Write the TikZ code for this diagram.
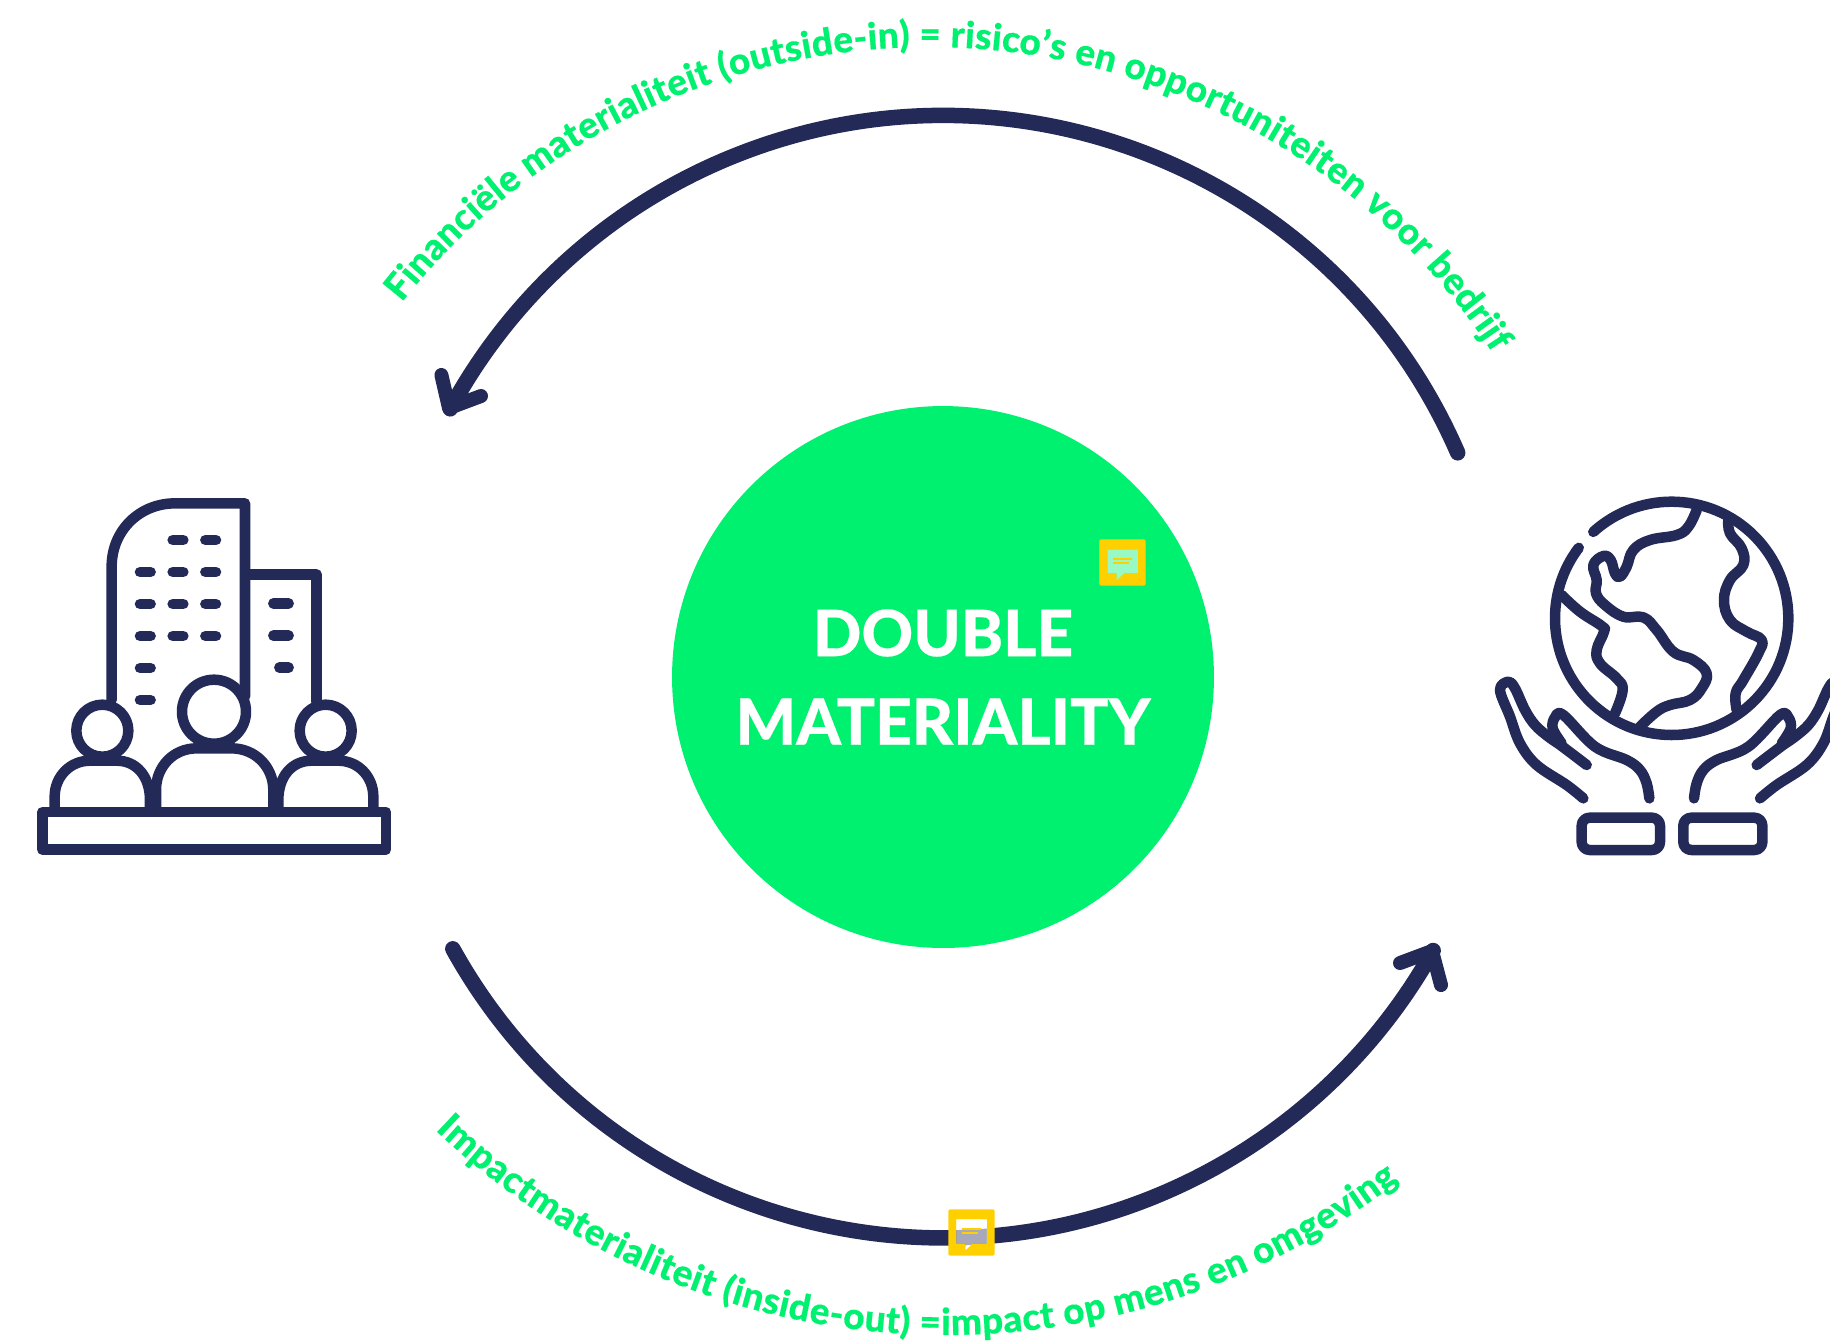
\documentclass[tikz,border=0pt]{standalone}
\usepackage{fontspec}
\setmainfont{Lato}
\newfontfamily\heavyface{Lato Heavy}[FakeBold=0.4]
\usetikzlibrary{decorations.text}
\definecolor{navyc}{HTML}{232A57}
\definecolor{greenc}{HTML}{00F070}
\definecolor{yellowc}{HTML}{FFD000}
\tikzset{
  px/.style={x=0.01cm,y=-0.01cm},
  icon/.style={draw=navyc,line width=1.05mm,line cap=round,line join=round},
  winbar/.style={draw=navyc,line width=1.05mm,line cap=round},
  ringarc/.style={draw=navyc,line width=1.55mm,line cap=round},
  arrowwing/.style={draw=navyc,line width=1.4mm,line cap=round,line join=round},
  curvedlabel/.style={decorate,decoration={text along path,text color=greenc,text align={fit to path},
     text={#1}}},
}
\newcommand{\curvefont}{\heavyface\fontsize{10.5}{12}\selectfont}
\newcommand{\handshape}{%
  \draw[icon] plot[smooth,tension=.6] coordinates {(310,955) (260,915) (170,855) (120,790) (90,710) (60,630) (85,605) (105,625) (135,690) (165,735) (205,770) (245,798) (320,855)};
  \draw[icon] plot[smooth,tension=.6] coordinates {(245,790) (218,745) (225,712) (250,705) (345,800) (440,840) (480,870) (500,910) (508,955)};
}
\begin{document}
\begin{tikzpicture}[px]
\useasboundingbox (0,0) rectangle (1830,1341);
\clip (0,0) rectangle (1830,1341);

% centre
\node[circle,fill=greenc,minimum size=5.416cm,inner sep=0pt,text=white,align=center,
      font=\heavyface\fontsize{18.15}{25.2}\selectfont] (core) at (943,677) {DOUBLE\\MATERIALITY};

% ring arrows
\coordinate (topstart) at (1457.7,452.8);
\coordinate (toptip) at (449,408);
\coordinate (topwinga) at (441.4,375);
\coordinate (topwingb) at (481,396);
\coordinate (botstart) at (452.8,948.8);
\coordinate (bottip) at (1432,951);
\coordinate (botwinga) at (1400,963);
\coordinate (botwingb) at (1441,985);
\draw[ringarc] (topstart) arc[start angle=336.5,end angle=208.5,radius=561];
\draw[arrowwing] (topwinga) -- (toptip) -- (topwingb);
\draw[ringarc] (botstart) arc[start angle=151,end angle=29.2,radius=561];
\draw[arrowwing] (botwinga) -- (bottip) -- (botwingb);

% curved labels
\coordinate (topcentre) at (929,719);
\coordinate (botcentre) at (946.5,595);
\path[curvedlabel={|\curvefont|Financiële materialiteit (outside-in) = risico’s en opportuniteiten voor bedrijf}]
  (topcentre) ++(218.3:672) arc[start angle=218.3,end angle=327,radius=672];
\path[curvedlabel={|\curvefont|Impactmaterialiteit (inside-out) =impact op mens en omgeving}]
  (botcentre) ++(133.7:740) arc[start angle=133.7,end angle=52.4,radius=740];

% comment markers
\foreach \a/\b in {1099.3/539.3,948.3/1209.3}{
\begin{scope}[shift={(\a,\b)},scale=0.33333]
  \fill[yellowc,even odd rule] [rounded corners=0.4pt] (0,0) rectangle (139,139)
     [sharp corners] (24,30) -- (116,30) -- (116,102) -- (74,102) -- (52,122) -- (52,102) -- (24,102) -- cycle;
  \fill[white,opacity=.6] (24,30) -- (116,30) -- (116,102) -- (74,102) -- (52,122) -- (52,102) -- (24,102) -- cycle;
  \draw[yellowc,line width=.2mm] (42,58) -- (97,58) (42,71) -- (89,71);
\end{scope}}

% building icon
\begin{scope}[shift={(20,480)},scale=0.33333]
  \draw[icon] (275,660) -- (275,260) .. controls (275,150) and (360,70) .. (465,70) -- (675,70) -- (675,650);
  \draw[icon] (690,284) -- (890,284) -- (890,665);
  \foreach \r in {276,372,468}{
    \draw[winbar] (360,\r) -- (392,\r) (458,\r) -- (490,\r) (556,\r) -- (588,\r);}
  \draw[winbar] (458,180) -- (490,180) (556,180) -- (588,180);
  \draw[winbar] (360,564) -- (392,564) (360,660) -- (392,660);
  \draw[winbar] (760,370) -- (806,370) (760,467) -- (806,467) (778,563) -- (806,563);
  \draw[icon,fill=white] (104,990) -- (104,950) .. controls (104,890) and (150,842) .. (210,842) -- (290,842) .. controls (350,842) and (390,890) .. (390,960) -- (390,990);
  \draw[icon,fill=white] (775,990) -- (775,960) .. controls (775,890) and (815,842) .. (875,842) -- (955,842) .. controls (1015,842) and (1060,890) .. (1060,950) -- (1060,990);
  \draw[icon,fill=white] (408,990) -- (408,930) .. controls (408,860) and (460,805) .. (530,805) -- (635,805) .. controls (705,805) and (760,860) .. (760,930) -- (760,990);
  \draw[icon,fill=white] (247,752) circle[radius=78];
  \draw[icon,fill=white] (917,752) circle[radius=78];
  \draw[icon,fill=white] (582,695) circle[radius=96];
  \draw[icon,fill=white] (67,996) rectangle (1098,1109);
\end{scope}

% globe icon
\begin{scope}[shift={(1480,480)},scale=0.33333]
  \coordinate (globec) at (575,415);
  \draw[icon] (globec) ++(227.8:350) arc[start angle=227.8,end angle=577.2,radius=350];
  \draw[icon] plot[smooth,tension=.7] coordinates {(245,345) (300,395) (365,438) (372,455) (350,510) (360,550) (410,595) (428,630) (405,700)};
  \draw[icon] plot[smooth,tension=.7] coordinates {(650,90) (625,140) (590,165) (510,180) (460,210) (440,260) (420,290) (405,280) (392,240) (370,228) (340,255) (350,300) (348,340) (375,375) (430,410) (490,412) (530,450) (580,515) (640,540) (680,580) (665,625) (630,660) (570,675) (530,695) (480,740)};
  \draw[icon] plot[smooth,tension=.7] coordinates {(745,120) (750,160) (785,205) (790,255) (750,300) (732,360) (750,420) (800,455) (845,480) (835,520) (790,600) (767,640) (770,690)};
  \handshape
  \draw[icon,rounded corners=.8mm] (305,1013) rectangle (540,1110);
  \draw[icon,rounded corners=.8mm] (610,1013) rectangle (847,1110);
\end{scope}
\begin{scope}[shift={(1863.33,480)},xscale=-0.33333,yscale=0.33333]
  \handshape
\end{scope}
\end{tikzpicture}
\end{document}
